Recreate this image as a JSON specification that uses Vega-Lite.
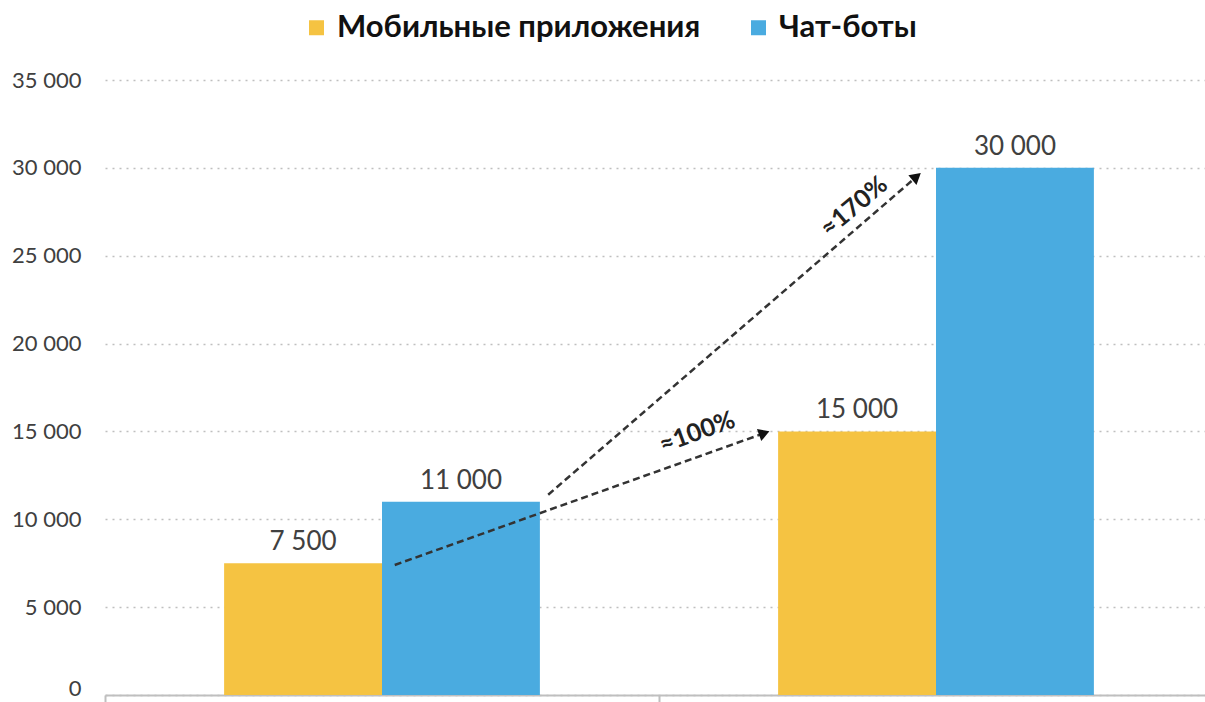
{
  "$schema": "https://vega.github.io/schema/vega-lite/v6.json",
  "width": 1108,
  "height": 615,
  "autosize": {"type": "none"},
  "padding": {"left": 105, "top": 80, "right": 0, "bottom": 7},
  "config": {
    "locale": {"number": {"decimal": ",", "thousands": "\u00a0", "grouping": [3], "currency": ["", ""]}},
    "view": {"stroke": null},
    "font": "Lato"
  },
  "datasets": {
    "bars": [
      {"period": "Период 1", "series": "Мобильные приложения", "value": 7500},
      {"period": "Период 1", "series": "Чат-боты", "value": 11000},
      {"period": "Период 2", "series": "Мобильные приложения", "value": 15000},
      {"period": "Период 2", "series": "Чат-боты", "value": 30000}
    ],
    "arrows": [
      {"arrow": "a100", "pos": 0.523, "level": 7400, "end": false},
      {"arrow": "a100", "pos": 1.19, "level": 14900, "end": true},
      {"arrow": "a170", "pos": 0.80, "level": 11400, "end": false},
      {"arrow": "a170", "pos": 1.465, "level": 29500, "end": true}
    ],
    "notes": [
      {"note": "a100", "pos": 1.069, "level": 14950, "label": "≈100%"},
      {"note": "a170", "pos": 1.352, "level": 27800, "label": "≈170%"}
    ]
  },
  "layer": [
    {
      "data": {"name": "bars"},
      "encoding": {
        "x": {"field": "period", "type": "nominal", "axis": null, "scale": {"paddingInner": 0.43, "paddingOuter": 0.215}},
        "xOffset": {"field": "series", "type": "nominal", "scale": {"paddingInner": 0, "paddingOuter": 0}},
        "y": {
          "field": "value", "type": "quantitative",
          "scale": {"domain": [0, 35000]},
          "axis": {
            "values": [0, 5000, 10000, 15000, 20000, 25000, 30000, 35000],
            "format": ",d", "title": null, "domain": false, "ticks": false,
            "labelFontSize": 22, "labelColor": "#404040", "labelPadding": 24,
            "labelBaseline": {"condition": {"test": "datum.value == 0", "value": "alphabetic"}, "value": "middle"},
            "gridColor": "#BFBFBF", "gridDash": [2, 5], "gridWidth": 1.5
          }
        }
      },
      "layer": [
        {
          "mark": {"type": "bar"},
          "encoding": {
            "color": {
              "field": "series", "type": "nominal",
              "scale": {"domain": ["Мобильные приложения", "Чат-боты"], "range": ["#F5C342", "#4AABE0"]},
              "legend": {
                "orient": "none", "legendX": 196, "legendY": -68, "direction": "horizontal",
                "title": null, "symbolType": "square", "symbolSize": 225, "symbolStrokeWidth": 0,
                "labelFontSize": 31, "labelFontWeight": "bold", "labelColor": "#111111", "labelLimit": 0,
                "columnPadding": 42, "labelOffset": 5
              }
            }
          }
        },
        {
          "mark": {"type": "text", "align": "center", "baseline": "alphabetic", "dy": -13, "fontSize": 26, "color": "#404040"},
          "encoding": {"text": {"field": "value", "type": "quantitative", "format": ",d"}}
        }
      ]
    },
    {
      "layer": [
        {
          "data": {"name": "arrows"},
          "mark": {"type": "line", "strokeDash": [7, 4], "strokeWidth": 2.5, "color": "#333333"},
          "encoding": {
            "x": {
              "field": "pos", "type": "quantitative", "scale": {"domain": [0, 2]},
              "axis": {"orient": "bottom", "values": [0, 1, 2], "labels": false, "ticks": true, "tickSize": 10,
                       "tickColor": "#BFBFBF", "tickWidth": 2, "domainColor": "#BFBFBF", "domainWidth": 2,
                       "grid": false, "title": null}
            },
            "y": {"field": "level", "type": "quantitative"},
            "detail": {"field": "arrow", "type": "nominal"}
          }
        },
        {
          "data": {"name": "arrows"},
          "transform": [{"filter": "datum.end && datum.arrow == 'a100'"}],
          "mark": {"type": "point", "shape": "triangle-right", "filled": true, "color": "#111111", "size": 160, "opacity": 1, "angle": 340},
          "encoding": {
            "x": {"field": "pos", "type": "quantitative"},
            "y": {"field": "level", "type": "quantitative"}
          }
        },
        {
          "data": {"name": "arrows"},
          "transform": [{"filter": "datum.end && datum.arrow == 'a170'"}],
          "mark": {"type": "point", "shape": "triangle-right", "filled": true, "color": "#111111", "size": 160, "opacity": 1, "angle": 320},
          "encoding": {
            "x": {"field": "pos", "type": "quantitative"},
            "y": {"field": "level", "type": "quantitative"}
          }
        },
        {
          "data": {"name": "notes"},
          "transform": [{"filter": "datum.note == 'a100'"}],
          "mark": {"type": "text", "align": "center", "baseline": "middle", "angle": 340, "fontSize": 25, "fontWeight": "bold", "color": "#222222"},
          "encoding": {
            "x": {"field": "pos", "type": "quantitative"},
            "y": {"field": "level", "type": "quantitative"},
            "text": {"field": "label"}
          }
        },
        {
          "data": {"name": "notes"},
          "transform": [{"filter": "datum.note == 'a170'"}],
          "mark": {"type": "text", "align": "center", "baseline": "middle", "angle": 320, "fontSize": 25, "fontWeight": "bold", "color": "#222222"},
          "encoding": {
            "x": {"field": "pos", "type": "quantitative"},
            "y": {"field": "level", "type": "quantitative"},
            "text": {"field": "label"}
          }
        }
      ]
    }
  ],
  "resolve": {"scale": {"x": "independent"}, "axis": {"x": "independent"}}
}
